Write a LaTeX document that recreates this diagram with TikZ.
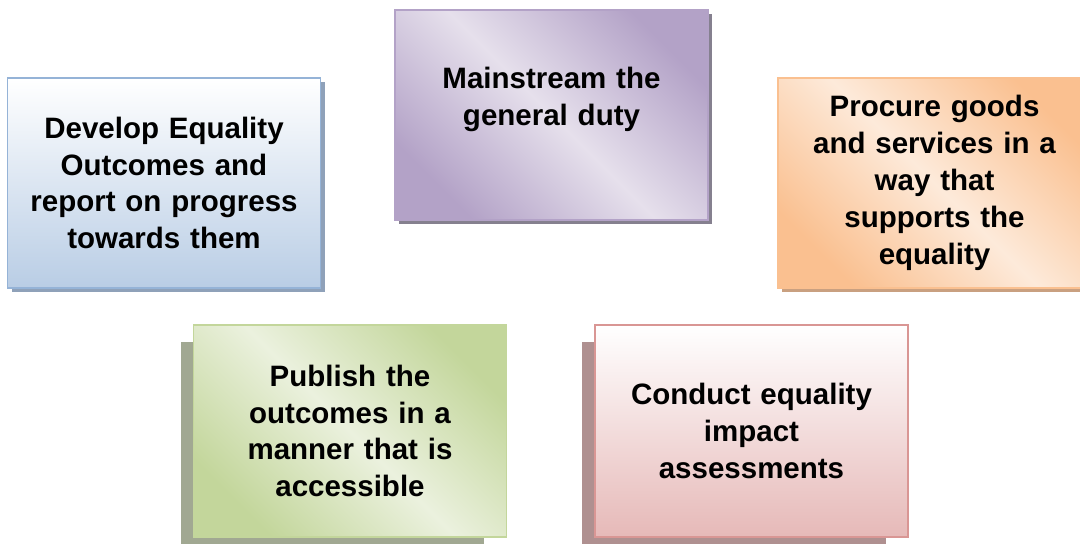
\documentclass[tikz,border=0pt]{standalone}
\usepackage{fontspec}
\setmainfont{Liberation Sans}
\usetikzlibrary{positioning,shadows}

\definecolor{blueline}{HTML}{95B3D7}
\definecolor{bluefill}{HTML}{B9CDE5}
\definecolor{blueshade}{HTML}{8FA1B9}
\definecolor{purpleline}{HTML}{B3A2C7}
\definecolor{purplemid}{HTML}{E6E0EC}
\definecolor{purpleshade}{HTML}{85808F}
\definecolor{orangeline}{HTML}{FAC090}
\definecolor{orangemid}{HTML}{FDEADA}
\definecolor{orangeshade}{HTML}{C9A080}
\definecolor{greenline}{HTML}{C3D69B}
\definecolor{greenmid}{HTML}{EBF1DE}
\definecolor{greenshade}{HTML}{A1A892}
\definecolor{pinkline}{HTML}{D99694}
\definecolor{pinkfill}{HTML}{E6B9B8}
\definecolor{pinkshade}{HTML}{AF9090}

\begin{document}
\begin{tikzpicture}[x=1pt,y=-1pt,
  duty/.style={rectangle,line width=1.5pt,minimum width=313pt,minimum height=210pt,
    text width=305pt,align=center,inner sep=0pt,
    font=\fontsize{29.5}{36.9}\selectfont\bfseries},
  upshadow/.style={general shadow={fill=#1,shadow xshift=4pt,shadow yshift=-4pt}},
  lowshadow/.style={general shadow={fill=#1,shadow scale=0.97,shadow xshift=-18pt,shadow yshift=-14pt}},
  diagfill/.style 2 args={left color=#1,right color=#1,middle color=#2,shading angle=135}]
\clip (0,0) rectangle (1080,544);
\useasboundingbox (0,0) rectangle (1080,544);

\node at (164,183) [duty,upshadow=blueshade,draw=blueline,top color=white,bottom color=bluefill] (outcomes) {Develop Equality\\
                                Outcomes and\\
                                report on progress\\
                                towards them};

\node at (551.5,115) [duty,upshadow=purpleshade,draw=purpleline,diagfill={purpleline}{purplemid}] (mainstream) {Mainstream the\\
                                general duty\\ \mbox{}};

\node at (934.5,183) [duty,upshadow=orangeshade,draw=orangeline,diagfill={orangeline}{orangemid}] (procure) {Procure goods\\
                                and services in a\\
                                way that\\
                                supports the\\
                                equality};

\node at (350,431) [duty,minimum height=212pt,lowshadow=greenshade,draw=greenline,diagfill={greenline}{greenmid}] (publish) {Publish the\\
                                outcomes in a\\
                                manner that is\\
                                accessible};

\node at (751.5,431) [duty,minimum height=212pt,lowshadow=pinkshade,draw=pinkline,top color=white,bottom color=pinkfill] (impact) {Conduct equality\\
                                impact\\
                                assessments};
\end{tikzpicture}
\end{document}
